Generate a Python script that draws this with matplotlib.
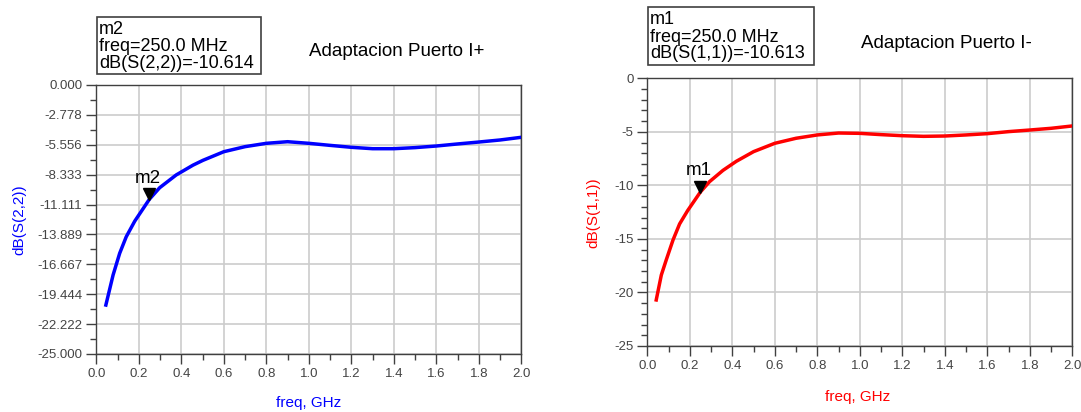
import numpy as np
import matplotlib
matplotlib.use("Agg")
import matplotlib.pyplot as plt
from matplotlib.ticker import MultipleLocator, FixedLocator
from matplotlib.patches import Rectangle
from matplotlib.transforms import offset_copy

plt.rcParams["font.family"] = ["Liberation Sans", "DejaVu Sans"]

# dB(S(2,2)) - Puerto I+  (freq in GHz)
freq_p = [0.045, 0.079, 0.11, 0.141, 0.181, 0.22, 0.25, 0.298, 0.376, 0.455,
          0.502, 0.6, 0.7, 0.8, 0.9, 1.0, 1.1, 1.2, 1.3, 1.4, 1.5, 1.6, 1.7,
          1.8, 1.9, 2.0]
s22_db = [-20.45, -17.66, -15.64, -14.1, -12.65, -11.5, -10.614, -9.55,
          -8.36, -7.45, -7.0, -6.2, -5.73, -5.42, -5.27, -5.42, -5.61,
          -5.79, -5.92, -5.92, -5.82, -5.67, -5.48, -5.3, -5.11, -4.86]

# dB(S(1,1)) - Puerto I-
freq_m = [0.042, 0.066, 0.089, 0.121, 0.152, 0.19, 0.25, 0.293, 0.356, 0.419,
          0.5, 0.6, 0.7, 0.8, 0.9, 1.0, 1.1, 1.2, 1.3, 1.4, 1.5, 1.6, 1.7,
          1.8, 1.9, 2.0]
s11_db = [-20.7, -18.37, -16.97, -15.1, -13.6, -12.35, -10.613, -9.65, -8.6,
          -7.75, -6.85, -6.07, -5.6, -5.29, -5.11, -5.14, -5.26, -5.36,
          -5.42, -5.39, -5.29, -5.17, -4.98, -4.83, -4.67, -4.45]

marker_freq = 0.25
left_yticks = [0.0, -2.778, -5.556, -8.333, -11.111, -13.889, -16.667,
               -19.444, -22.222, -25.0]

W, H = 1081, 412
fig = plt.figure(figsize=(W / 100, H / 100), dpi=100)
GREY = "#404040"


def fx(px):
    return px / W


def fy(py):
    return 1 - py / H


def style_axes(ax):
    ax.set_xlim(0, 2.0)
    ax.set_ylim(-25, 0)
    ax.xaxis.set_major_locator(MultipleLocator(0.2))
    ax.xaxis.set_minor_locator(MultipleLocator(0.1))
    ax.grid(True, which="major", color="#cccccc", linewidth=1.2)
    ax.set_axisbelow(True)
    for sp in ax.spines.values():
        sp.set_color(GREY)
        sp.set_linewidth(1.0)
    ax.tick_params(which="both", direction="out", colors=GREY,
                   labelsize=9.5, labelcolor="#444444", width=1.0)
    ax.tick_params(which="major", length=7, pad=3)
    ax.tick_params(which="minor", length=4.5)
    ax.xaxis.set_major_formatter(plt.FuncFormatter(lambda v, p: f"{v:.1f}"))


def add_marker(ax, x, y, name):
    tri = offset_copy(ax.transData, fig=fig, x=0, y=5, units="dots")
    ax.plot([x], [y], marker="v", color="black", markersize=9,
            linestyle="none", zorder=5, transform=tri)
    ax.annotate(name, (x, y), xytext=(-1, 9), textcoords="offset points",
                ha="center", va="bottom", fontsize=13.5, color="black",
                zorder=6)


def readout(x0, y0, x1, y1, text):
    fig.add_artist(Rectangle((fx(x0), fy(y1)), fx(x1 - x0), (y1 - y0) / H,
                             transform=fig.transFigure, facecolor="white",
                             edgecolor=GREY, linewidth=1.2))
    fig.text(fx(x0 + 2), fy((y0 + y1) / 2 + 1), text, fontsize=13,
             ha="left", va="center", linespacing=1.0)


# ---- left: S(2,2) ----
ax1 = fig.add_axes([fx(96.3), fy(354), (521.3 - 96.3) / W, (354 - 85) / H])
style_axes(ax1)
ax1.yaxis.set_major_locator(FixedLocator(left_yticks))
ax1.yaxis.set_minor_locator(FixedLocator(
    [(a + b) / 2 for a, b in zip(left_yticks[:-1], left_yticks[1:])]))
ax1.yaxis.set_major_formatter(plt.FuncFormatter(lambda v, p: f"{v:.3f}"))
ax1.plot(freq_p, s22_db, color="#0000ff", linewidth=2.5, zorder=4,
         solid_joinstyle="round")
add_marker(ax1, marker_freq, np.interp(marker_freq, freq_p, s22_db), "m2")

# ---- right: S(1,1) ----
ax2 = fig.add_axes([fx(647.3), fy(346), (1072.3 - 647.3) / W, (346 - 78.3) / H])
style_axes(ax2)
ax2.yaxis.set_major_locator(MultipleLocator(5))
ax2.yaxis.set_minor_locator(MultipleLocator(1))
ax2.yaxis.set_major_formatter(plt.FuncFormatter(lambda v, p: f"{v:.0f}"))
ax2.plot(freq_m, s11_db, color="#ff0000", linewidth=2.5, zorder=4,
         solid_joinstyle="round")
add_marker(ax2, marker_freq, np.interp(marker_freq, freq_m, s11_db), "m1")

# axis labels
fig.text(fx(309), fy(403), "freq, GHz", color="#0000ff", fontsize=11,
         ha="center", va="center")
fig.text(fx(19), fy(220), "dB(S(2,2))", color="#0000ff", fontsize=11,
         ha="center", va="center", rotation=90)
fig.text(fx(858), fy(397), "freq, GHz", color="#ff0000", fontsize=11,
         ha="center", va="center")
fig.text(fx(593), fy(213), "dB(S(1,1))", color="#ff0000", fontsize=11,
         ha="center", va="center", rotation=90)

# marker readouts and titles
readout(97, 17, 261, 74, "m2\nfreq=250.0 MHz\ndB(S(2,2))=-10.614")
readout(648, 7, 814, 65, "m1\nfreq=250.0 MHz\ndB(S(1,1))=-10.613")
fig.text(fx(397), fy(52), "Adaptacion Puerto I+", fontsize=13.5,
         ha="center", va="center")
fig.text(fx(946), fy(43), "Adaptacion Puerto I-", fontsize=13.5,
         ha="center", va="center")

fig.savefig("out.png", dpi=100)
